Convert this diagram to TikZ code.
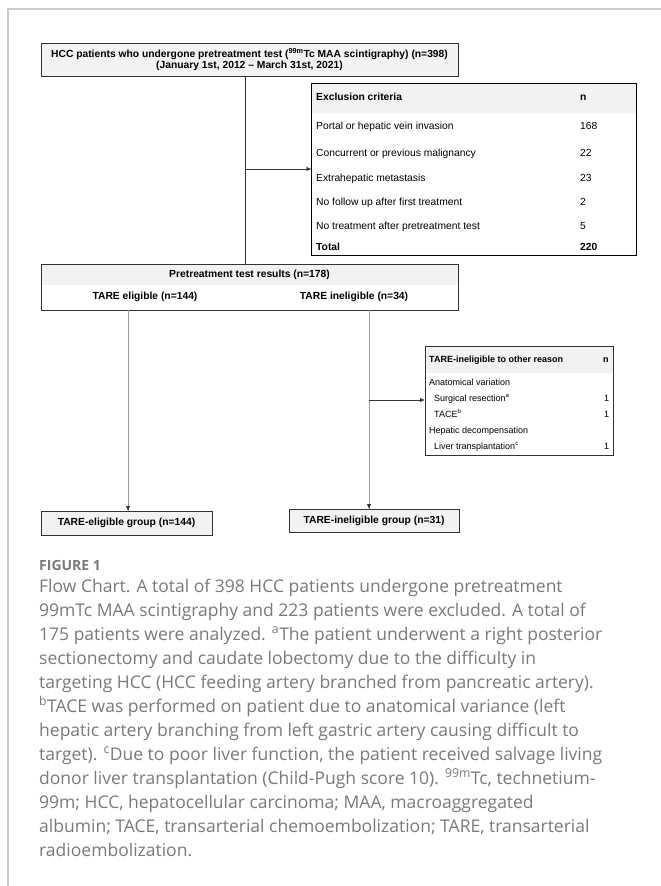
\documentclass[tikz,border=0pt]{standalone}
\usepackage{fontspec}
\newfontfamily\chartfont[Ligatures=TeX]{Liberation Sans}
\newfontfamily\capfont[Ligatures=TeX]{Open Sans}
\usetikzlibrary{arrows.meta}
\definecolor{hdr}{HTML}{F2F2F2}
\definecolor{edge}{HTML}{333333}
\definecolor{capgray}{HTML}{7A7A7A}
\definecolor{framegray}{HTML}{CCCCCC}
\definecolor{lgray}{HTML}{9A9A9A}
\tikzset{
  tbox/.style={draw=edge, line width=1pt, inner sep=0pt, outer sep=0pt},
  gbox/.style={tbox, fill=hdr},
  ctext/.style={font=\chartfont\fontsize{10.3}{11.5}\selectfont, inner sep=0pt, text height=7.4pt, text depth=2pt},
  btext/.style={ctext, font=\chartfont\bfseries\fontsize{10.3}{11.5}\selectfont},
  stext/.style={font=\chartfont\fontsize{9}{10}\selectfont, inner sep=0pt, text height=6.5pt, text depth=1.8pt, anchor=west},
  sbtext/.style={stext, font=\chartfont\bfseries\fontsize{9}{10}\selectfont},
  conn/.style={draw=edge, line width=0.8pt},
  lconn/.style={draw=lgray, line width=1pt},
  tip/.style={-{Latex[length=5pt,width=4.5pt]}},
  captext/.style={font=\capfont\fontsize{17.5}{24}\selectfont, text=capgray, inner sep=0pt, anchor=base west},
}
\begin{document}
\begin{tikzpicture}[x=1pt,y=-1pt]
\useasboundingbox (0,0) rectangle (661,886);
\fill[white] (0,0) rectangle (661,886);
% outer frame
\draw[framegray, line width=1.5pt] (8,886) -- (8,9) -- (661,9);

% header bands
\fill[hdr] (311.5,83) rectangle (636.5,113);
\fill[hdr] (41,264) rectangle (458,285);
\fill[hdr] (425,346) rectangle (613,373);

% boxes
\node[gbox, minimum width=417pt, minimum height=33pt, align=center,
      font=\chartfont\bfseries\fontsize{10.3}{11.5}\selectfont] (b1) at (249.5,59.5)
  {HCC patients who undergone pretreatment test (\textsuperscript{99m}Tc MAA scintigraphy) (n=398)\\(January 1st, 2012 – March 31st, 2021)};
\node[tbox, draw=black, minimum width=325pt, minimum height=172pt] (excl) at (474,169) {};
\node[tbox, minimum width=417pt, minimum height=46pt] (b2) at (249.5,287) {};
\node[tbox, minimum width=188pt, minimum height=109pt] (oth) at (519,400.5) {};
\node[gbox, minimum width=171pt, minimum height=24pt] (gL) at (126.5,523) {};
\node[gbox, minimum width=170pt, minimum height=23pt] (gR) at (374,520.5) {};

% exclusion table text
\node[btext, anchor=west] (e0) at (316,98) {Exclusion criteria};
\node[btext, anchor=west] (e0n) at (580,98) {n};
\node[ctext, anchor=west] (e1) at (316,127) {Portal or hepatic vein invasion};
\node[ctext, anchor=west] (e1n) at (580,127) {168};
\node[ctext, anchor=west] (e2) at (316,154) {Concurrent or previous malignancy};
\node[ctext, anchor=west] (e2n) at (580,154) {22};
\node[ctext, anchor=west] (e3) at (316,179) {Extrahepatic metastasis};
\node[ctext, anchor=west] (e3n) at (580,179) {23};
\node[ctext, anchor=west] (e4) at (316,203) {No follow up after first treatment};
\node[ctext, anchor=west] (e4n) at (580,203) {2};
\node[ctext, anchor=west] (e5) at (316,227) {No treatment after pretreatment test};
\node[ctext, anchor=west] (e5n) at (580,227) {5};
\node[btext, anchor=west] (e6) at (316,248) {Total};
\node[btext, anchor=west] (e6n) at (580,248) {220};

% pretreatment box text
\node[btext] (p0) at (249.5,275) {Pretreatment test results (n=178)};
\node[btext] (p1) at (145,297) {TARE eligible (n=144)};
\node[btext] (p2) at (354,297) {TARE ineligible (n=34)};

% other reason table
\node[sbtext] (o0) at (429,360) {TARE-ineligible to other reason};
\node[sbtext] (o0n) at (603,360) {n};
\node[stext] (o1) at (429,383) {Anatomical variation};
\node[stext] (o2) at (434,399) {Surgical resection\textsuperscript{a}};
\node[stext] (o2n) at (604,399) {1};
\node[stext] (o3) at (434,415) {TACE\textsuperscript{b}};
\node[stext] (o3n) at (604,415) {1};
\node[stext] (o4) at (429,431) {Hepatic decompensation};
\node[stext] (o5) at (434,447) {Liver transplantation\textsuperscript{c}};
\node[stext] (o5n) at (604,447) {1};

% group boxes text
\node[btext] (gLt) at (gL) {TARE-eligible group (n=144)};
\node[btext] (gRt) at (gR) {TARE-ineligible group (n=31)};

% connectors
\coordinate (j1) at (245,169);
\draw[conn] (j1 |- b1.south) -- (j1 |- b2.north);
\draw[conn, tip] (j1) -- (excl.west |- j1);
\coordinate (jL) at (128,400);
\coordinate (jR) at (369,400);
\draw[lconn] (jL |- b2.south) -- (jL |- gL.north);
\draw[lconn] (jR |- b2.south) -- (jR |- gR.north);
\draw[conn, tip] ([yshift=5pt]jL |- gL.north) -- (jL |- gL.north);
\draw[conn, tip] ([yshift=5pt]jR |- gR.north) -- (jR |- gR.north);
\draw[conn, tip] (jR) -- (oth.west |- jR);

% caption
\node[font=\capfont\bfseries\fontsize{14}{16}\selectfont, text=capgray, inner sep=0pt, anchor=base west] (fig) at (39,570) {FIGURE 1};
\foreach \ln [count=\i] in {
 {Flow Chart. A total of 398 HCC patients undergone pretreatment},
 {99mTc MAA scintigraphy and 223 patients were excluded. A total of},
 {175 patients were analyzed. \textsuperscript{a}The patient underwent a right posterior},
 {sectionectomy and caudate lobectomy due to the difficulty in},
 {targeting HCC (HCC feeding artery branched from pancreatic artery).},
 {\textsuperscript{b}TACE was performed on patient due to anatomical variance (left},
 {hepatic artery branching from left gastric artery causing difficult to},
 {target). \textsuperscript{c}Due to poor liver function, the patient received salvage living},
 {donor liver transplantation (Child-Pugh score 10). \textsuperscript{99m}Tc, technetium-},
 {99m; HCC, hepatocellular carcinoma; MAA, macroaggregated},
 {albumin; TACE, transarterial chemoembolization; TARE, transarterial},
 {radioembolization.}}
 \node[captext] (cap\i) at (39,{592+24*(\i-1)}) {\ln};
\end{tikzpicture}
\end{document}
